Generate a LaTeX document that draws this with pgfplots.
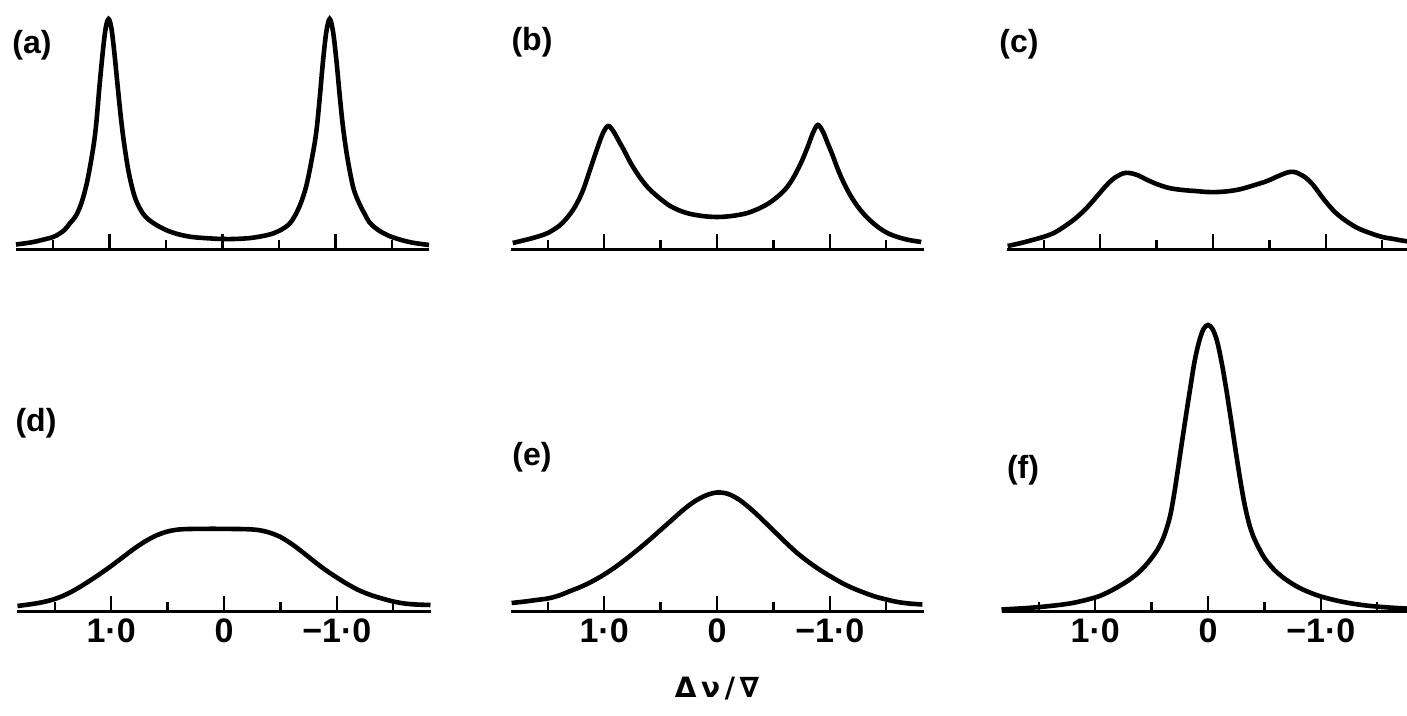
\documentclass[border=0pt]{standalone}
\usepackage{fontspec}
\setmainfont{Liberation Sans}
\newfontfamily\dejavu{DejaVu Sans}
\usepackage{pgfplots}
\pgfplotsset{compat=1.18}

\pgfplotsset{
  panel/.style={
    scale only axis, width=206.5pt, height=150pt,
    xmin=-1.83, xmax=1.83, ymin=0, ymax=300,
    x dir=reverse,
    axis x line=bottom, axis y line=none,
    x axis line style={-, line width=1.5pt},
    xtick={-1,0,1}, minor xtick={-1.5,-0.5,0.5,1.5},
    tick align=inside,
    major tick length=8pt, minor tick length=5pt,
    every tick/.style={black, line width=1.2pt},
    xticklabels={},
    clip=false,
    anchor=south west,
  },
  labelled/.style={
    xticklabels={−1·0,0,1·0},
    xticklabel style={font=\bfseries\fontsize{17}{19}\selectfont, yshift=0pt},
  },
  curve/.style={black, line width=2.3pt, smooth, tension=0.55, mark=none},
}

\begin{document}
\begin{tikzpicture}
\useasboundingbox (0,0) rectangle (703.5pt,358pt);

% (a)
\begin{axis}[panel, at={(8pt,233pt)}]
\addplot[curve] coordinates {
(1.83,5.5) (1.70,7.5) (1.60,10) (1.50,13) (1.45,16) (1.40,20) (1.35,27) (1.30,34)
(1.25,47) (1.20,68) (1.15,99) (1.12,125) (1.09,164) (1.06,199) (1.035,222)
(1.01,231) (0.985,222) (0.96,199) (0.93,165) (0.90,132) (0.87,105) (0.83,77)
(0.78,54) (0.73,41) (0.68,33) (0.60,26) (0.50,20) (0.40,16) (0.27,13)
(0.10,11.5) (0,11) (-0.10,11) (-0.25,12) (-0.40,15) (-0.50,19) (-0.60,27)
(-0.68,43) (-0.74,63) (-0.79,90) (-0.83,117) (-0.86,150) (-0.89,188)
(-0.92,218) (-0.95,231) (-0.98,218) (-1.01,189) (-1.04,153) (-1.07,121)
(-1.11,90) (-1.16,62) (-1.21,47) (-1.26,36) (-1.30,28) (-1.35,22.5)
(-1.40,18.5) (-1.45,15.5) (-1.50,13) (-1.60,9.5) (-1.70,7) (-1.83,5)
};
\end{axis}

% (b)
\begin{axis}[panel, at={(255.25pt,233pt)}]
\addplot[curve] coordinates {
(1.81,7) (1.70,10) (1.60,13) (1.50,17) (1.40,24) (1.33,32) (1.26,43) (1.19,59)
(1.12,82) (1.06,102) (1.01,117) (0.965,124) (0.92,119) (0.87,109) (0.83,101)
(0.76,86) (0.68,72) (0.60,61) (0.50,51) (0.40,43) (0.27,37) (0.13,34) (0,33)
(-0.13,34) (-0.27,37) (-0.40,43) (-0.50,50) (-0.60,60) (-0.67,71) (-0.74,86)
(-0.80,102) (-0.85,117) (-0.894,125) (-0.94,118) (-0.98,107) (-1.02,96)
(-1.07,81) (-1.12,68) (-1.18,55) (-1.25,43) (-1.33,32.5) (-1.42,23.5)
(-1.51,17) (-1.60,13) (-1.70,10) (-1.81,8)
};
\end{axis}

% (c)
\begin{axis}[panel, at={(503.25pt,233pt)}]
\addplot[curve] coordinates {
(1.82,4) (1.70,7) (1.60,10) (1.52,12.5) (1.42,16.5) (1.33,22.5) (1.22,31.5)
(1.12,42) (1.03,53.5) (0.95,64) (0.88,71.5) (0.80,76.5) (0.74,77) (0.66,74.5)
(0.60,71) (0.50,66) (0.39,62) (0.27,60) (0.16,59) (0.05,58) (-0.05,58)
(-0.15,59) (-0.25,61) (-0.37,65) (-0.48,69) (-0.58,74) (-0.66,77.5)
(-0.72,78) (-0.80,74) (-0.88,66) (-0.98,51) (-1.08,38) (-1.18,29) (-1.28,22)
(-1.39,17) (-1.50,13) (-1.60,11) (-1.70,9) (-1.83,7)
};
\end{axis}

% (d)
\begin{axis}[panel, labelled, at={(8.75pt,52pt)}]
\addplot[curve] coordinates {
(1.83,6) (1.70,8) (1.60,10) (1.50,13) (1.40,17.5) (1.30,23.5) (1.20,30.5)
(1.10,38) (1.00,46) (0.90,54.5) (0.80,63) (0.70,70.5) (0.60,76.5) (0.50,80.5)
(0.40,82.5) (0.30,83) (0.10,83.2) (-0.10,83) (-0.20,82.8) (-0.30,82)
(-0.40,79.5) (-0.50,75) (-0.60,68) (-0.70,59.5) (-0.80,50.5) (-0.90,42)
(-1.00,34.5) (-1.10,27.5) (-1.20,21.5) (-1.30,17) (-1.40,13.5) (-1.50,10.5)
(-1.60,8.5) (-1.70,7.5) (-1.83,7)
};
\end{axis}

% (e)
\begin{axis}[panel, labelled, at={(255.25pt,52pt)}]
\addplot[curve] coordinates {
(1.82,9) (1.70,10.5) (1.60,12) (1.50,13.5) (1.40,16.5) (1.30,21) (1.20,25.5)
(1.10,31) (1.00,37.5) (0.90,45) (0.80,53.5) (0.70,62.5) (0.60,72) (0.50,82)
(0.40,92) (0.30,102) (0.20,110.5) (0.10,116.5) (0,119.5) (-0.10,118)
(-0.20,112) (-0.30,103) (-0.40,92.5) (-0.50,81.5) (-0.60,70.5) (-0.70,60)
(-0.80,51) (-0.90,43) (-1.00,36) (-1.10,29.5) (-1.20,24) (-1.30,19.5)
(-1.40,15.5) (-1.50,12.5) (-1.60,10) (-1.70,8.5) (-1.82,7.5)
};
\end{axis}

% (f)
\begin{axis}[panel, labelled, at={(500.75pt,52pt)}]
\addplot[curve] coordinates {
(1.83,2.5) (1.60,4) (1.40,6) (1.20,9) (1.00,14.5) (0.90,19) (0.80,25) (0.70,32)
(0.62,39) (0.55,47) (0.50,54) (0.45,62) (0.40,73) (0.36,86) (0.33,99)
(0.30,118) (0.27,140) (0.24,163) (0.20,193) (0.16,222) (0.12,250) (0.08,270)
(0.04,283) (0,287) (-0.04,283) (-0.08,271) (-0.12,250) (-0.16,224)
(-0.20,195) (-0.24,165) (-0.28,136) (-0.32,110) (-0.36,90) (-0.40,76)
(-0.45,64) (-0.50,54) (-0.58,43) (-0.66,35) (-0.75,28) (-0.85,22)
(-1.00,15.5) (-1.20,10) (-1.40,6.5) (-1.60,4.5) (-1.83,3)
};
\end{axis}

% panel labels
\begin{scope}[every node/.style={font=\bfseries\fontsize{16}{18}\selectfont}]
\node at (16pt,335.5pt) {(a)};
\node at (266pt,337pt) {(b)};
\node at (509.5pt,336pt) {(c)};
\node at (18pt,146.5pt) {(d)};
\node at (266pt,129.5pt) {(e)};
\node at (511.5pt,123pt) {(f)};
\end{scope}
\node[font=\dejavu\bfseries\fontsize{14}{16}\selectfont, inner sep=0pt, anchor=base] at (358.5pt,9pt) {Δ\,ν\,/\,∇};
\end{tikzpicture}
\end{document}
